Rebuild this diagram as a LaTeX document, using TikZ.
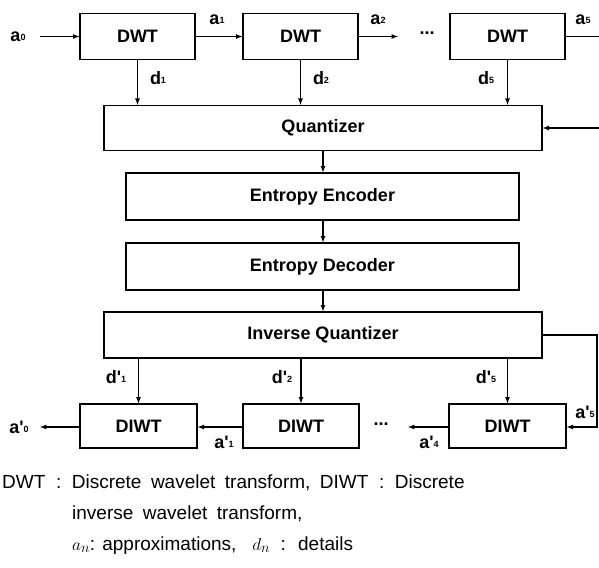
\documentclass[tikz,border=0pt]{standalone}
\usepackage{fontspec}
\setmainfont{Liberation Sans}
\usepackage{tikz}
\usetikzlibrary{arrows}
\newcommand{\lbl}[2]{\textbf{#1}\raisebox{0.1ex}{\fontsize{9}{9}\selectfont\bfseries #2}}
\newcommand{\pr}{\textquotesingle}

\begin{document}
\begin{tikzpicture}[x=1pt,y=-1pt]
\tikzstyle{block} = [draw=black, line width=1.2pt, minimum width=115pt, minimum height=46pt, inner sep=0pt, font=\fontsize{18}{18}\selectfont\bfseries]
\tikzstyle{wide block} = [block, minimum height=45pt]
\tikzstyle{edge} = [draw=black, line width=1.2pt, -latex]
\tikzstyle{label} = [inner sep=0pt, font=\fontsize{18}{18}\selectfont]
\tikzstyle{caption} = [inner sep=0pt, anchor=base west, font=\fontsize{19}{19}\selectfont]

\useasboundingbox (0,0) rectangle (599,567);

\node[block] (DWTa) at (137.5,36.5) {DWT};
\node[block] (DWTb) at (300.5,36.5) {DWT};
\node[block] (DWTc) at (507.5,36.5) {DWT};
\node[wide block, minimum width=438pt] (Q) at (323,128) {Quantizer};
\node[wide block, minimum width=393pt, minimum height=47pt] (EE) at (322.5,196.5) {Entropy Encoder};
\node[wide block, minimum width=393pt, minimum height=47pt] (ED) at (322.5,266.5) {Entropy Decoder};
\node[wide block, minimum width=438pt, minimum height=46pt] (IQ) at (323,335) {Inverse Quantizer};
\node[block, minimum width=117pt, minimum height=44pt] (DIWTa) at (138.5,426) {DIWT};
\node[block, minimum width=116pt, minimum height=44pt] (DIWTb) at (301,426) {DIWT};
\node[block, minimum width=117pt, minimum height=44pt] (DIWTc) at (507.5,426) {DIWT};

\coordinate (in) at (40,36.5);
\coordinate (topdots) at (398,36.5);
\coordinate (topout) at (599,36.5);
\coordinate (qin) at (599,128);
\coordinate (fbA) at (597,335);
\coordinate (fbB) at (597,427);
\coordinate (out) at (40,427);
\coordinate (botdots) at (408,427);

\node[label] (a0) at (18,37) {\lbl{a}{0}};
\node[label] (a1) at (217,20) {\lbl{a}{1}};
\node[label] (a2) at (378,20) {\lbl{a}{2}};
\node[label] (a5) at (583,20) {\lbl{a}{5}};
\node[label] (d1) at (158,78) {\lbl{d}{1}};
\node[label] (d2) at (321,78) {\lbl{d}{2}};
\node[label] (d5) at (486,78) {\lbl{d}{5}};
\node[label] (tdots) at (427,33) {\textbf{...}};
\node[label] (dp1) at (116,377) {\lbl{d\pr}{1}};
\node[label] (dp2) at (282,377) {\lbl{d\pr}{2}};
\node[label] (dp5) at (486,377) {\lbl{d\pr}{5}};
\node[label] (ap0) at (19,427) {\lbl{a\pr}{0}};
\node[label] (ap1) at (224,442) {\lbl{a\pr}{1}};
\node[label] (ap4) at (429,442) {\lbl{a\pr}{4}};
\node[label] (ap5) at (585,412) {\lbl{a\pr}{5}};
\node[label] (bdots) at (381,424) {\textbf{...}};

% analysis side
\path[edge] (in) -- (DWTa);
\path[edge] (DWTa) -- (DWTb);
\path[edge] (DWTb.east) -- (topdots);
\draw[line width=1.2pt] (DWTc.east) -- (topout);
\path[edge] (DWTa.south) -- (DWTa.south |- Q.north);
\path[edge] (DWTb.south) -- (DWTb.south |- Q.north);
\path[edge] (DWTc.south) -- (DWTc.south |- Q.north);
\path[edge] (qin) -- (Q.east);

% coding chain
\path[edge] (Q) -- (Q |- EE.north);
\path[edge] (EE.south -| Q) -- (Q |- ED.north);
\path[edge] (ED.south -| Q) -- (IQ);

% synthesis side
\path[edge] (DIWTa.north |- IQ.south) -- (DIWTa.north);
\path[edge] (DIWTb.north |- IQ.south) -- (DIWTb.north);
\path[edge] (DIWTc.north |- IQ.south) -- (DIWTc.north);
\path[edge] (fbA -| IQ.east) -- (fbA) -- (fbB) -- (DIWTc.east |- fbB);
\path[edge] (DIWTc.west |- botdots) -- (botdots);
\path[edge] (DIWTb.west |- out) -- (DIWTa.east |- out);
\path[edge] (DIWTa.west |- out) -- (out);

% legend
\node[caption] (c1) at (2,488) {DWT\; :\; Discrete\: wavelet\: transform,\: DIWT\; :\; Discrete};
\node[caption] (c2) at (72,519) {inverse\: wavelet\: transform,};
\node[caption] (c3) at (72,550) {$a_n$: approximations,\;\; $d_n$\; :\; details};
\end{tikzpicture}
\end{document}
